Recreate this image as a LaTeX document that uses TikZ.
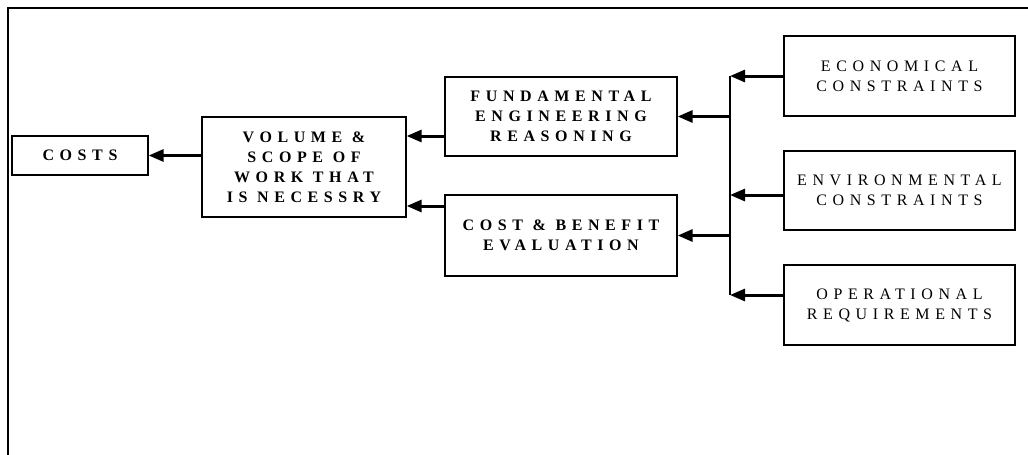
\documentclass[tikz,border=0pt]{standalone}
\usepackage{fontspec}
\setmainfont{Liberation Serif}
\newfontfamily\spaced[LetterSpace=35]{Liberation Serif}
\usetikzlibrary{arrows.meta}
\tikzset{
  box/.style={draw, line width=1.3pt, align=center, inner sep=0pt,
    font=\spaced\fontsize{16}{20}\selectfont},
  boldbox/.style={box, font=\spaced\bfseries\fontsize{16}{20}\selectfont},
  flow/.style={line width=3pt, -{Triangle[length=15pt,width=12pt]}},
  trunk/.style={line width=1.8pt},
}
\begin{document}
\begin{tikzpicture}[x=1pt,y=-1pt]
\useasboundingbox (0,0) rectangle (1028,455);
% 边框
\draw[line width=2.2pt] (8,455) -- (8,8) -- (1028,8);

% 左边的方框
\node[boldbox, minimum width=136pt, minimum height=39pt] (costs) at (80,155.5) {COSTS};
\node[boldbox, minimum width=204pt, minimum height=100pt] (volume) at (304,167)
  {VOLUME \&\\SCOPE OF\\WORK THAT\\IS NECESSRY};
\node[boldbox, minimum width=232pt, minimum height=79pt] (fund) at (561,116.5)
  {FUNDAMENTAL\\ENGINEERING\\REASONING};
\node[boldbox, minimum width=232pt, minimum height=81pt] (cba) at (561,235.5)
  {COST \& BENEFIT\\EVALUATION};

% 右边的方框
\node[box, minimum width=231pt, minimum height=80pt] (econ) at (899.5,76)
  {ECONOMICAL\\CONSTRAINTS};
\node[box, minimum width=231pt, minimum height=79pt] (envir) at (899.5,190.5)
  {ENVIRONMENTAL\\CONSTRAINTS};
\node[box, minimum width=231pt, minimum height=80pt] (oper) at (899.5,305)
  {OPERATIONAL\\REQUIREMENTS};

% 竖线
\coordinate (top) at (730,76);
\coordinate (bot) at (730,295);
\draw[trunk] (top) -- (bot);

% 箭头
\draw[flow] (econ.west) -- (top);
\draw[flow] ([yshift=-4.5pt]envir.west) -- ([yshift=-4.5pt]envir.west -| top);
\draw[flow] ([yshift=10pt]oper.west) -- (bot);
\draw[flow] (fund.east -| top) -- (fund.east);
\draw[flow] (cba.east -| top) -- (cba.east);
\draw[flow] ([yshift=-19.5pt]fund.west) -- ([yshift=-19.5pt]fund.west -| volume.east);
\draw[flow] ([yshift=29.5pt]cba.west) -- ([yshift=29.5pt]cba.west -| volume.east);
\draw[flow] (costs.east -| volume.west) -- (costs.east);
\end{tikzpicture}
\end{document}
